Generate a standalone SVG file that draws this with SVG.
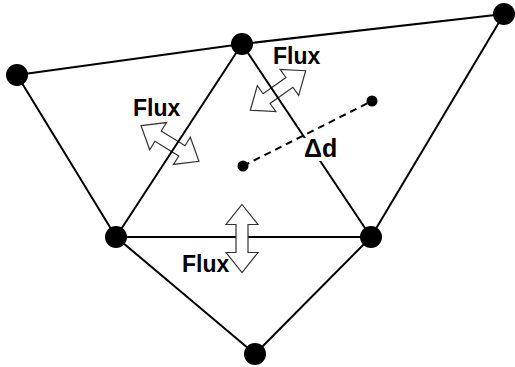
<svg xmlns="http://www.w3.org/2000/svg" xmlns:xlink="http://www.w3.org/1999/xlink" width="515" height="367" viewBox="0 0 515 367">
  <style>
    .edge { stroke: #000; stroke-width: 2; fill: none; }
    .dash { stroke: #000; stroke-width: 2; fill: none; stroke-dasharray: 7 5; }
    .node { fill: #000; }
    .flux { fill: #fff; stroke: #333; stroke-width: 1.2; stroke-linejoin: miter; }
    .lbl { font-family: "Liberation Sans", Arial, sans-serif; font-weight: bold; fill: #000; }
  </style>
  <defs>
    <!-- double-headed block arrow, centred on the origin, pointing along x -->
    <polygon id="flux-arrow" points="-34,0 -14,-16 -14,-6 14,-6 14,-16 34,0 14,16 14,6 -14,6 -14,16"/>
  </defs>
  <rect width="515" height="367" fill="#fff"/>

  <!-- flux arrows lying under the mesh edges -->
  <g id="flux-left">
    <use xlink:href="#flux-arrow" class="flux" transform="translate(170,143.5) rotate(31.7)"/>
  </g>
  <g id="flux-top">
    <use xlink:href="#flux-arrow" class="flux" transform="translate(278,90.5) rotate(-35.5)"/>
  </g>

  <g id="connectors">
    <line class="edge" x1="17" y1="75" x2="242" y2="44"/>
    <line class="edge" x1="242" y1="44" x2="504" y2="14"/>
    <line class="edge" x1="17" y1="75" x2="116" y2="237"/>
    <line class="edge" x1="242" y1="44" x2="116" y2="237"/>
    <line class="edge" x1="242" y1="44" x2="371" y2="237"/>
    <line class="edge" x1="504" y1="14" x2="371" y2="237"/>
    <line class="edge" x1="116" y1="237" x2="371" y2="237"/>
    <line class="edge" x1="116" y1="237" x2="255" y2="354"/>
    <line class="edge" x1="371" y1="237" x2="255" y2="354"/>
    <line class="dash" x1="243" y1="166" x2="372" y2="101"/>
  </g>

  <!-- flux arrow across the bottom edge sits above it -->
  <g id="flux-bottom">
    <use xlink:href="#flux-arrow" class="flux" transform="translate(242,238.5) rotate(90)"/>
  </g>

  <g id="node-a"><circle class="node" cx="17" cy="75" r="11"/></g>
  <g id="node-b"><circle class="node" cx="242" cy="44" r="11"/></g>
  <g id="node-c"><circle class="node" cx="504" cy="14" r="11"/></g>
  <g id="node-d"><circle class="node" cx="116" cy="237" r="11"/></g>
  <g id="node-e"><circle class="node" cx="371" cy="237" r="11"/></g>
  <g id="node-f"><circle class="node" cx="255" cy="354" r="11"/></g>
  <g id="centre-1"><circle class="node" cx="243" cy="166" r="5.5"/></g>
  <g id="centre-2"><circle class="node" cx="372" cy="101" r="5.5"/></g>

  <g id="labels">
    <text class="lbl" x="133" y="116" font-size="23">Flux</text>
    <text class="lbl" x="273" y="64" font-size="23">Flux</text>
    <text class="lbl" x="182" y="272" font-size="23">Flux</text>
    <rect x="303" y="138" width="39" height="23" fill="#fff"/>
    <text class="lbl" x="304" y="157" font-size="25">Δd</text>
  </g>
</svg>
